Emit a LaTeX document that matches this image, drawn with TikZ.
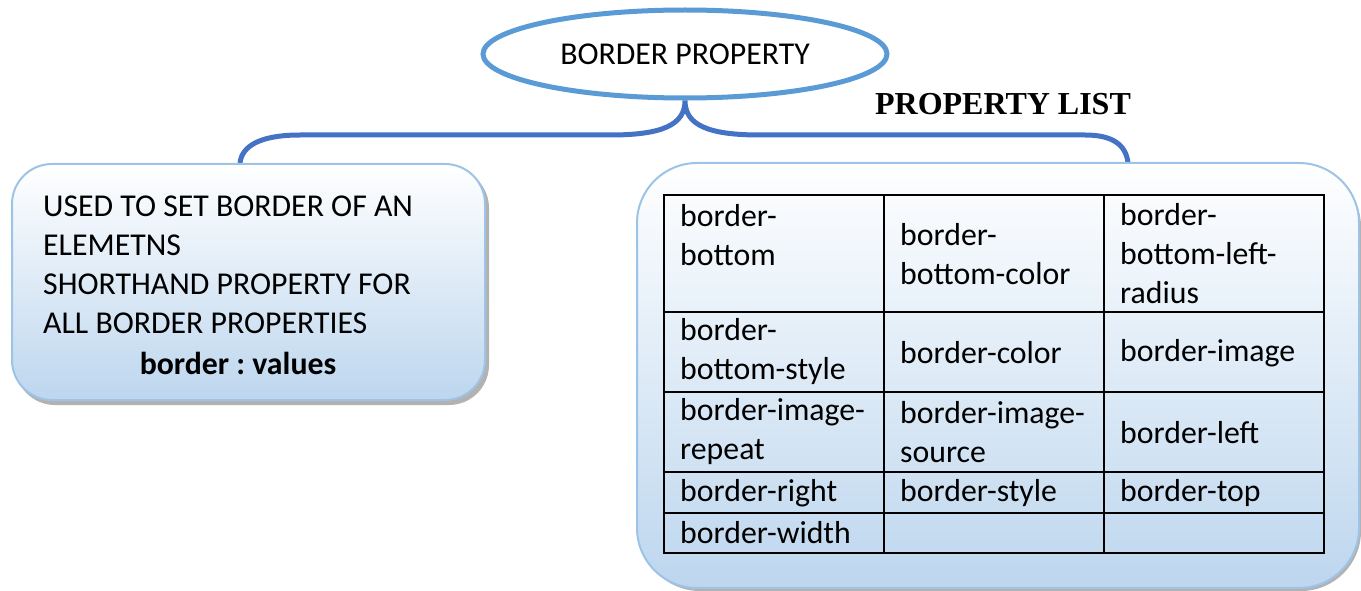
\documentclass[tikz,border=0pt]{standalone}
\usepackage{fontspec}
\setmainfont{Carlito}
\newfontfamily\headfont{Liberation Serif}
\usetikzlibrary{shapes.geometric}
\definecolor{ellblue}{HTML}{5B9BD5}
\definecolor{braceblue}{HTML}{4472C4}
\definecolor{edgeblue}{HTML}{9DC3E6}
\definecolor{fillblue}{RGB}{189,214,238}
\frenchspacing

\begin{document}
\begin{tikzpicture}[x=1pt, y=-1pt,
	every node/.style={font=\fontsize{31.8}{39}\selectfont},
	infobox/.style={draw=edgeblue, line width=2pt, top color=white, bottom color=fillblue, rounded corners=#1},
	boxshadow/.style={fill=black!30, rounded corners=#1},
	cell/.style={anchor=west, align=left, inner sep=0pt}]
	\useasboundingbox (0,0) rectangle (1361,591);
	% title and its brace
	\node[draw=ellblue, line width=5pt, ellipse, minimum width=404pt, minimum height=88pt, inner sep=0pt] (title) at (685,54) {BORDER PROPERTY};
	\coordinate (lefttip) at (240,163);
	\coordinate (righttip) at (1128,163);
	\draw[braceblue, line width=5pt] (lefttip) .. controls (242,145) and (262,135) .. (300,135) -- (610,135)
		.. controls (662,135) and (685,125) .. (title.south)
		.. controls (685,125) and (708,135) .. (760,135) -- (1085,135)
		.. controls (1113,135) and (1126,145) .. (righttip);
	\node[font=\headfont\bfseries\fontsize{32}{34}\selectfont] (listhead) at (1003,104.5) {PROPERTY LIST};

	% left box
	\fill[boxshadow=40pt] (15,168) rectangle (489,405);
	\draw[infobox=40pt] (12,164) rectangle (485,400);
	\node[anchor=north west, align=left, inner sep=0pt] (usage) at (43,196) {USED TO SET BORDER OF AN\\ELEMETNS\\SHORTHAND PROPERTY FOR\\ALL BORDER PROPERTIES};
	\node[font=\bfseries\fontsize{31.8}{39}\selectfont] (syntax) at (238,363) {border : values};

	% right box with the table
	\fill[boxshadow=60pt] (640,167) rectangle (1361,591);
	\draw[infobox=60pt] (637,163) rectangle (1359,588);
	\draw[line width=2pt] (664,195) rectangle (1324,553);
	\draw[line width=2pt] (664,312) -- (1324,312);
	\draw[line width=2pt] (664,392) -- (1324,392);
	\draw[line width=2pt] (664,472) -- (1324,472);
	\draw[line width=2pt] (664,513) -- (1324,513);
	\draw[line width=2pt] (884,195) -- (884,553);
	\draw[line width=2pt] (1104,195) -- (1104,553);
	\node[cell] (bb) at (680,235) {border-\\bottom};
	\node[cell] (bbc) at (900,254) {border-\\bottom-color};
	\node[cell] (bblr) at (1120,254) {border-\\bottom-left-\\radius};
	\node[cell] (bbs) at (680,352) {border-\\bottom-style};
	\node[cell] (bc) at (900,353) {border-color};
	\node[cell] (bi) at (1120,353) {border-image};
	\node[cell] (bir) at (680,432) {border-image-\\repeat};
	\node[cell] (bis) at (900,432) {border-image-\\source};
	\node[cell] (bl) at (1120,433) {border-left};
	\node[cell] (br) at (680,493) {border-right};
	\node[cell] (bs) at (900,493) {border-style};
	\node[cell] (bt) at (1120,493) {border-top};
	\node[cell] (bw) at (680,533) {border-width};
\end{tikzpicture}
\end{document}
